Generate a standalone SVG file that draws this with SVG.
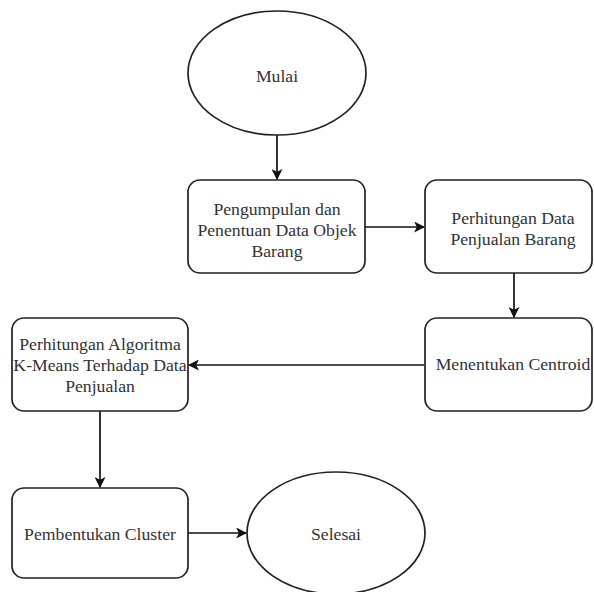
<svg xmlns="http://www.w3.org/2000/svg" width="594" height="592" viewBox="0 0 594 592">
<defs>
<marker id="arr" viewBox="0 0 10 10" refX="9" refY="5" markerWidth="11" markerHeight="11" markerUnits="userSpaceOnUse" orient="auto">
<path d="M0,0 L10,5 L0,10 L2.5,5 Z" fill="#111"/>
</marker>
<style>
.s{fill:#fff;stroke:#222;stroke-width:1.7}
.t{font-family:"Liberation Serif","Times New Roman",serif;font-size:17.7px;fill:#333;text-anchor:middle}
.c{fill:none;stroke:#111;stroke-width:1.7;marker-end:url(#arr)}
</style>
</defs>
<rect width="594" height="592" fill="#fff"/>
<g id="connectors">
<path class="c" d="M277,135 L277,179"/>
<path class="c" d="M365,227 L424,227"/>
<path class="c" d="M514,273 L514,317"/>
<path class="c" d="M424,365 L189,365"/>
<path class="c" d="M100,411 L100,487"/>
<path class="c" d="M188,533 L246,533"/>
</g>
<g id="mulai">
<ellipse class="s" cx="277" cy="73" rx="89" ry="62"/>
<text class="t" x="277" y="82">Mulai</text>
</g>
<g id="pengumpulan">
<rect class="s" x="188" y="180" width="177" height="93" rx="12"/>
<text class="t" x="277" y="215">Pengumpulan dan</text>
<text class="t" x="277" y="236">Penentuan Data Objek</text>
<text class="t" x="277" y="257">Barang</text>
</g>
<g id="perhitungan-data">
<rect class="s" x="425" y="180" width="167" height="93" rx="12"/>
<text class="t" x="513" y="224">Perhitungan Data</text>
<text class="t" x="513" y="245">Penjualan Barang</text>
</g>
<g id="centroid">
<rect class="s" x="425" y="318" width="167" height="93" rx="12"/>
<text class="t" x="513" y="370">Menentukan Centroid</text>
</g>
<g id="kmeans">
<rect class="s" x="12" y="318" width="176" height="93" rx="12"/>
<text class="t" x="100" y="350">Perhitungan Algoritma</text>
<text class="t" x="100" y="371">K-Means Terhadap Data</text>
<text class="t" x="100" y="392">Penjualan</text>
</g>
<g id="cluster">
<rect class="s" x="12" y="488" width="176" height="90" rx="12"/>
<text class="t" x="100" y="540">Pembentukan Cluster</text>
</g>
<g id="selesai">
<ellipse class="s" cx="336" cy="533" rx="89" ry="61"/>
<text class="t" x="336" y="540">Selesai</text>
</g>
</svg>
